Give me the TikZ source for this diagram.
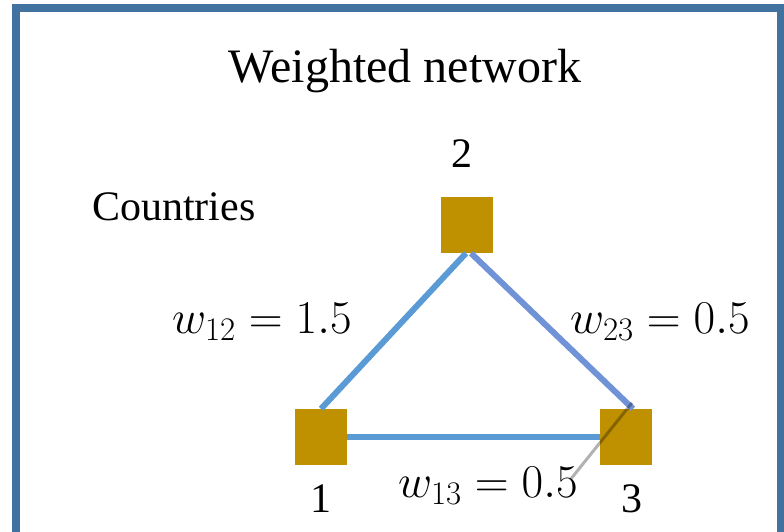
\RequirePackage{fix-cm}
\documentclass[tikz,border=0pt]{standalone}
\usepackage{amsmath}
\usepackage{fontspec}
\setmainfont{Liberation Serif}
\usepackage{tikz}
\usepackage{xcolor}
\definecolor{framelblue}{RGB}{66,114,160}
\definecolor{countrygold}{RGB}{191,144,0}
\definecolor{linkblue}{RGB}{91,155,213}
\definecolor{linkviolet}{RGB}{112,146,214}

\begin{document}
\begin{tikzpicture}[x=1pt, y=-1pt,
    country/.style={fill=countrygold, minimum width=52pt, minimum height=56pt, inner sep=0pt},
    link/.style={line width=6pt},
    lbl/.style={inner sep=0pt, font=\fontsize{42}{48}\selectfont},
    wlbl/.style={inner sep=0pt, anchor=base west, font=\fontsize{47}{54}\selectfont}]
    \useasboundingbox (0,0) rectangle (784,531);

    % Frame
    \draw[framelblue, line width=8pt] (16,8) rectangle (781,560);

    \node[inner sep=0pt, anchor=base, font=\fontsize{48}{56}\selectfont] (title) at (405,82) {Weighted network};
    \node[lbl, anchor=base west] (countries) at (92,220) {Countries};

    % Countries
    \node[country] (c2) at (467,225) {};
    \node[country] (c1) at (321,437) {};
    \node[country] (c3) at (626,437) {};

    \node[lbl, anchor=base] (n2) at (462,167) {2};
    \node[lbl, anchor=base] (n1) at (321,512) {1};
    \node[lbl, anchor=base] (n3) at (632,512) {3};

    % Links
    \draw[linkblue, link] (c1.north) -- ([xshift=-1]c2.south);
    \draw[linkviolet, link] ([xshift=4]c2.south) -- ([xshift=7]c3.north);
    \draw[linkblue, link] (c1.east) -- (c3.west);

    % Weights
    \node[wlbl] (w12) at (172,333) {$w_{12}=1.5$};
    \node[wlbl] (w23) at (570,333) {$w_{23}=0.5$};
    \node[wlbl] (w13) at (398,497) {$w_{13}=0.5$};

    % Faint pointer
    \coordinate (tail) at (570,480);
    \draw[black, opacity=0.3, line width=3pt] ([xshift=6,yshift=6]c3.north) -- (tail);
\end{tikzpicture}
\end{document}
